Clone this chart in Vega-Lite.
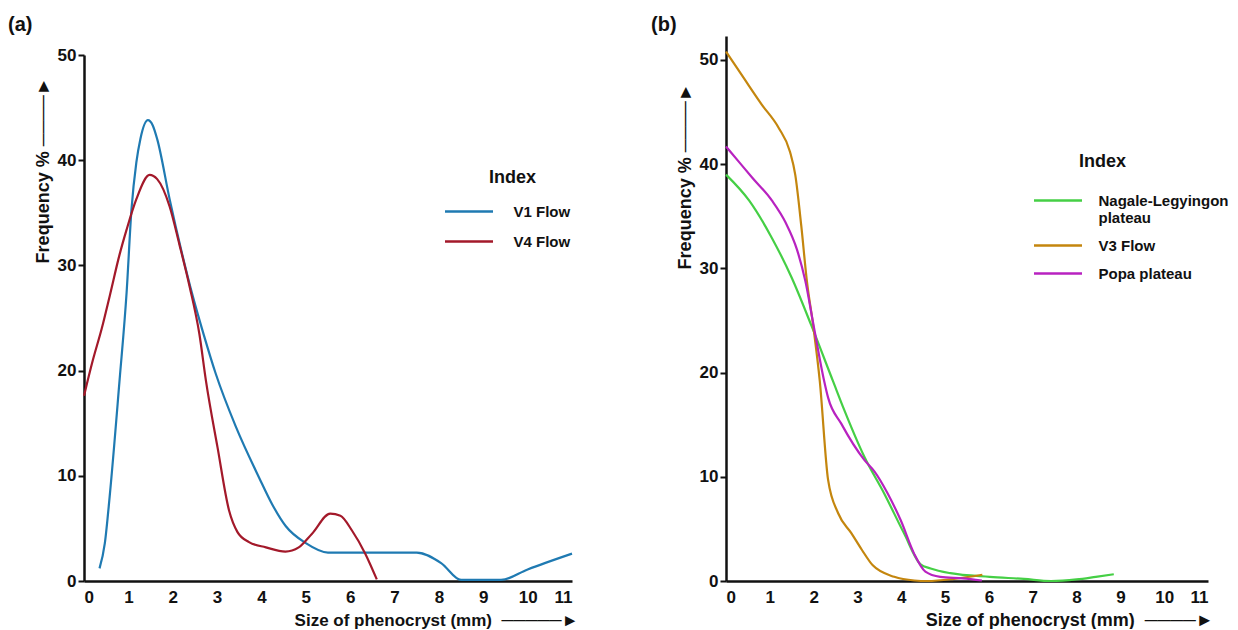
{
  "$schema": "https://vega.github.io/schema/vega-lite/v6.json",
  "padding": {"left": 8, "top": 15, "right": 0, "bottom": 0},
  "background": "white",
  "config": {
    "font": "Liberation Sans",
    "view": {"stroke": null},
    "concat": {"spacing": 73},
    "axis": {
      "grid": false,
      "labelFont": "Liberation Sans", "labelFontWeight": "bold", "labelFontSize": 17, "labelColor": "#111111",
      "domainColor": "#111111", "domainWidth": 2.5,
      "tickColor": "#111111", "tickWidth": 2, "tickSize": 6,
      "titleFont": "Liberation Sans", "titleFontWeight": "bold", "titleFontSize": 18, "titleColor": "#111111"
    },
    "legend": {
      "titleFont": "Liberation Sans", "titleFontWeight": "bold", "titleFontSize": 18, "titleColor": "#111111",
      "labelFont": "Liberation Sans", "labelFontWeight": "bold", "labelFontSize": 15, "labelColor": "#111111",
      "labelLimit": 300, "titleLimit": 300, "padding": 0,
      "symbolType": "M-4,0H4", "symbolSize": 144, "symbolStrokeWidth": 2.5
    },
    "title": {"font": "Liberation Sans", "fontWeight": "bold", "fontSize": 20, "color": "#111111", "anchor": "start", "frame": "group"}
  },
  "datasets": {
    "a": [
      {"series": "V1 Flow", "size": 0.35, "freq": 1.2},
      {"series": "V1 Flow", "size": 0.47, "freq": 3.6},
      {"series": "V1 Flow", "size": 0.58, "freq": 8.1},
      {"series": "V1 Flow", "size": 0.8, "freq": 19},
      {"series": "V1 Flow", "size": 0.96, "freq": 27.4},
      {"series": "V1 Flow", "size": 1.07, "freq": 35.3},
      {"series": "V1 Flow", "size": 1.18, "freq": 39.8},
      {"series": "V1 Flow", "size": 1.27, "freq": 42.0},
      {"series": "V1 Flow", "size": 1.44, "freq": 43.8},
      {"series": "V1 Flow", "size": 1.55, "freq": 43.3},
      {"series": "V1 Flow", "size": 1.65, "freq": 42.0},
      {"series": "V1 Flow", "size": 1.93, "freq": 36.3},
      {"series": "V1 Flow", "size": 2.2, "freq": 31.3},
      {"series": "V1 Flow", "size": 2.45, "freq": 27.1},
      {"series": "V1 Flow", "size": 2.7, "freq": 23.4},
      {"series": "V1 Flow", "size": 2.97, "freq": 19.7},
      {"series": "V1 Flow", "size": 3.42, "freq": 14.7},
      {"series": "V1 Flow", "size": 3.95, "freq": 9.8},
      {"series": "V1 Flow", "size": 4.24, "freq": 7.3},
      {"series": "V1 Flow", "size": 4.55, "freq": 5.2},
      {"series": "V1 Flow", "size": 5.0, "freq": 3.6},
      {"series": "V1 Flow", "size": 5.5, "freq": 2.7},
      {"series": "V1 Flow", "size": 6.5, "freq": 2.7},
      {"series": "V1 Flow", "size": 7.5, "freq": 2.7},
      {"series": "V1 Flow", "size": 8.05, "freq": 1.7},
      {"series": "V1 Flow", "size": 8.5, "freq": 0.1},
      {"series": "V1 Flow", "size": 9.4, "freq": 0.1},
      {"series": "V1 Flow", "size": 10.0, "freq": 1.1},
      {"series": "V1 Flow", "size": 11.0, "freq": 2.6},
      {"series": "V4 Flow", "size": 0.0, "freq": 17.6},
      {"series": "V4 Flow", "size": 0.2, "freq": 21.0},
      {"series": "V4 Flow", "size": 0.4, "freq": 24.0},
      {"series": "V4 Flow", "size": 0.58, "freq": 27.1},
      {"series": "V4 Flow", "size": 0.8, "freq": 31.0},
      {"series": "V4 Flow", "size": 0.96, "freq": 33.4},
      {"series": "V4 Flow", "size": 1.18, "freq": 36.3},
      {"series": "V4 Flow", "size": 1.48, "freq": 38.6},
      {"series": "V4 Flow", "size": 1.65, "freq": 38.2},
      {"series": "V4 Flow", "size": 1.93, "freq": 35.6},
      {"series": "V4 Flow", "size": 2.15, "freq": 32.0},
      {"series": "V4 Flow", "size": 2.38, "freq": 28.0},
      {"series": "V4 Flow", "size": 2.6, "freq": 23.5},
      {"series": "V4 Flow", "size": 2.75, "freq": 19.0},
      {"series": "V4 Flow", "size": 3.01, "freq": 12.7},
      {"series": "V4 Flow", "size": 3.27, "freq": 6.7},
      {"series": "V4 Flow", "size": 3.46, "freq": 4.65},
      {"series": "V4 Flow", "size": 3.72, "freq": 3.7},
      {"series": "V4 Flow", "size": 4.1, "freq": 3.2},
      {"series": "V4 Flow", "size": 4.54, "freq": 2.8},
      {"series": "V4 Flow", "size": 4.84, "freq": 3.2},
      {"series": "V4 Flow", "size": 5.14, "freq": 4.5},
      {"series": "V4 Flow", "size": 5.55, "freq": 6.4},
      {"series": "V4 Flow", "size": 5.78, "freq": 6.2},
      {"series": "V4 Flow", "size": 6.04, "freq": 4.8},
      {"series": "V4 Flow", "size": 6.34, "freq": 2.6},
      {"series": "V4 Flow", "size": 6.6, "freq": 0.15}
    ],
    "b": [
      {"series": "Nagale-Legyingon plateau", "size": 0.0, "freq": 39.0},
      {"series": "Nagale-Legyingon plateau", "size": 0.53, "freq": 36.5},
      {"series": "Nagale-Legyingon plateau", "size": 1.05, "freq": 32.9},
      {"series": "Nagale-Legyingon plateau", "size": 1.5, "freq": 29.1},
      {"series": "Nagale-Legyingon plateau", "size": 1.95, "freq": 24.5},
      {"series": "Nagale-Legyingon plateau", "size": 2.44, "freq": 19.2},
      {"series": "Nagale-Legyingon plateau", "size": 2.7, "freq": 16.4},
      {"series": "Nagale-Legyingon plateau", "size": 3.16, "freq": 11.9},
      {"series": "Nagale-Legyingon plateau", "size": 3.61, "freq": 8.4},
      {"series": "Nagale-Legyingon plateau", "size": 4.06, "freq": 4.6},
      {"series": "Nagale-Legyingon plateau", "size": 4.44, "freq": 1.6},
      {"series": "Nagale-Legyingon plateau", "size": 4.67, "freq": 1.2},
      {"series": "Nagale-Legyingon plateau", "size": 5.12, "freq": 0.75},
      {"series": "Nagale-Legyingon plateau", "size": 6.02, "freq": 0.4},
      {"series": "Nagale-Legyingon plateau", "size": 6.8, "freq": 0.2},
      {"series": "Nagale-Legyingon plateau", "size": 7.42, "freq": 0.0},
      {"series": "Nagale-Legyingon plateau", "size": 8.0, "freq": 0.15},
      {"series": "Nagale-Legyingon plateau", "size": 8.44, "freq": 0.4},
      {"series": "Nagale-Legyingon plateau", "size": 8.85, "freq": 0.65},
      {"series": "V3 Flow", "size": 0.0, "freq": 50.8},
      {"series": "V3 Flow", "size": 0.4, "freq": 48.3},
      {"series": "V3 Flow", "size": 0.82, "freq": 45.7},
      {"series": "V3 Flow", "size": 1.2, "freq": 43.5},
      {"series": "V3 Flow", "size": 1.46, "freq": 41.2},
      {"series": "V3 Flow", "size": 1.58, "freq": 39.0},
      {"series": "V3 Flow", "size": 1.72, "freq": 34.0},
      {"series": "V3 Flow", "size": 1.84, "freq": 29.0},
      {"series": "V3 Flow", "size": 2.0, "freq": 24.2},
      {"series": "V3 Flow", "size": 2.14, "freq": 19.2},
      {"series": "V3 Flow", "size": 2.33, "freq": 9.7},
      {"series": "V3 Flow", "size": 2.56, "freq": 6.5},
      {"series": "V3 Flow", "size": 2.86, "freq": 4.6},
      {"series": "V3 Flow", "size": 3.1, "freq": 3.0},
      {"series": "V3 Flow", "size": 3.35, "freq": 1.5},
      {"series": "V3 Flow", "size": 3.84, "freq": 0.4},
      {"series": "V3 Flow", "size": 4.3, "freq": 0.05},
      {"series": "V3 Flow", "size": 4.6, "freq": 0.0},
      {"series": "V3 Flow", "size": 5.2, "freq": 0.2},
      {"series": "V3 Flow", "size": 5.85, "freq": 0.6},
      {"series": "Popa plateau", "size": 0.0, "freq": 41.7},
      {"series": "Popa plateau", "size": 0.3, "freq": 40.2},
      {"series": "Popa plateau", "size": 0.6, "freq": 38.7},
      {"series": "Popa plateau", "size": 1.05, "freq": 36.5},
      {"series": "Popa plateau", "size": 1.36, "freq": 34.4},
      {"series": "Popa plateau", "size": 1.62, "freq": 31.8},
      {"series": "Popa plateau", "size": 1.81, "freq": 28.8},
      {"series": "Popa plateau", "size": 2.0, "freq": 24.5},
      {"series": "Popa plateau", "size": 2.24, "freq": 19.2},
      {"series": "Popa plateau", "size": 2.33, "freq": 17.6},
      {"series": "Popa plateau", "size": 2.63, "freq": 15.1},
      {"series": "Popa plateau", "size": 3.16, "freq": 11.6},
      {"series": "Popa plateau", "size": 3.39, "freq": 10.5},
      {"series": "Popa plateau", "size": 3.69, "freq": 8.4},
      {"series": "Popa plateau", "size": 3.99, "freq": 5.8},
      {"series": "Popa plateau", "size": 4.29, "freq": 2.65},
      {"series": "Popa plateau", "size": 4.55, "freq": 0.9},
      {"series": "Popa plateau", "size": 4.89, "freq": 0.4},
      {"series": "Popa plateau", "size": 5.4, "freq": 0.25},
      {"series": "Popa plateau", "size": 5.84, "freq": 0.05}
    ]
  },
  "resolve": {"scale": {"color": "independent", "x": "independent", "y": "independent"}, "legend": {"color": "independent"}},
  "hconcat": [
    {
      "title": {"text": "(a)", "dx": -76, "offset": 1},
      "width": 488,
      "height": 545,
      "data": {"name": "a"},
      "mark": {"type": "line", "interpolate": "monotone", "strokeWidth": 2.2},
      "encoding": {
        "x": {
          "field": "size", "type": "quantitative",
          "scale": {"domain": [0, 11], "nice": false},
          "axis": {"values": [0,1,2,3,4,5,6,7,8,9,10,11], "ticks": false, "labelPadding": 8,
                   "title": "Size of phenocryst (mm) \u00a0─────►", "titleFontSize": 17, "titleX": 494, "titleY": 44,
                   "titleAlign": "right", "titleBaseline": "alphabetic", "titleAnchor": null}
        },
        "y": {
          "field": "freq", "type": "quantitative",
          "scale": {"domain": [0, 50], "nice": false, "range": [545, 19]},
          "axis": {"values": [0,10,20,30,40,50], "labelPadding": 2,
                   "title": "Frequency % ────►", "titleX": -41, "titleY": 41,
                   "titleAlign": "right", "titleBaseline": "middle", "titleAngle": -90, "titleAnchor": null}
        },
        "color": {
          "field": "series", "type": "nominal",
          "scale": {"domain": ["V1 Flow", "V4 Flow"], "range": ["#1f7ab2", "#a3192a"]},
          "legend": {"orient": "none", "legendX": 405, "legendY": 133,
                     "title": "Index", "titleAnchor": "start", "titlePadding": 17,
                     "symbolOffset": -27.5, "labelOffset": 37, "rowPadding": 14, "labelBaseline": "middle"}
        }
      }
    },
    {
      "title": {"text": "(b)", "dx": -75, "offset": 1},
      "width": 482,
      "height": 545,
      "data": {"name": "b"},
      "mark": {"type": "line", "interpolate": "monotone", "strokeWidth": 2.2},
      "encoding": {
        "x": {
          "field": "size", "type": "quantitative",
          "scale": {"domain": [0, 11], "nice": false},
          "axis": {"values": [0,1,2,3,4,5,6,7,8,9,10,11], "ticks": false, "labelPadding": 8,
                   "title": "Size of phenocryst (mm) \u00a0────►", "titleX": 487, "titleY": 44,
                   "titleAlign": "right", "titleBaseline": "alphabetic", "titleAnchor": null}
        },
        "y": {
          "field": "freq", "type": "quantitative",
          "scale": {"domain": [0, 52.3], "nice": false},
          "axis": {"values": [0,10,20,30,40,50], "labelPadding": 2,
                   "title": "Frequency % ────►", "titleX": -41, "titleY": 47,
                   "titleAlign": "right", "titleBaseline": "middle", "titleAngle": -90, "titleAnchor": null}
        },
        "color": {
          "field": "series", "type": "nominal",
          "scale": {"domain": ["Nagale-Legyingon plateau", "V3 Flow", "Popa plateau"], "range": ["#45cf45", "#c4860e", "#b822c0"]},
          "legend": {"orient": "none", "legendX": 353, "legendY": 117,
                     "title": "Index", "titleAnchor": "start", "titlePadding": 22,
                     "symbolOffset": -28.5, "labelOffset": 33, "rowPadding": 12, "labelBaseline": "middle", "labelLineHeight": 19,
                     "labelExpr": "datum.label == 'Nagale-Legyingon plateau' ? ['Nagale-Legyingon', 'plateau'] : datum.label"}
        }
      }
    }
  ]
}
